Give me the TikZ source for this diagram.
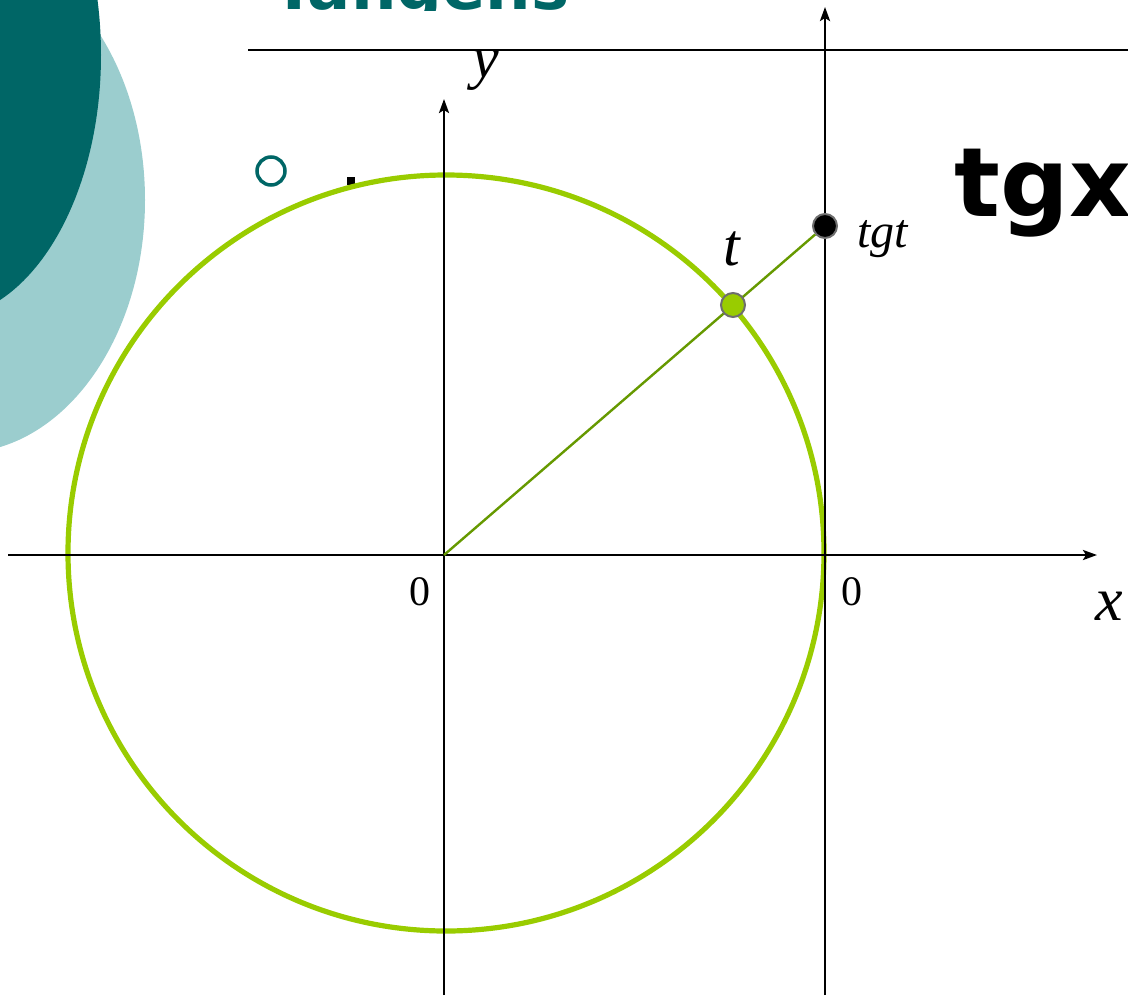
\documentclass[tikz,border=0pt]{standalone}
\usepackage{fontspec}
\setmainfont{Liberation Serif}
\newfontfamily\dejavu{DejaVu Sans}
\usetikzlibrary{arrows.meta}
\definecolor{darkteal}{RGB}{0,102,102}
\definecolor{lightteal}{RGB}{155,205,206}
\definecolor{circgreen}{RGB}{153,204,0}
\definecolor{radgreen}{RGB}{102,153,0}
\definecolor{ptborder}{RGB}{110,110,110}
\begin{document}
\begin{tikzpicture}[x=0.5pt,y=-0.5pt,
  axisline/.style={line width=1.3pt,-{Stealth[length=7pt,width=5pt,inset=1.5pt]}},
  lbl/.style={inner sep=0,anchor=base,font=\fontsize{30}{30}\selectfont\itshape},
  zero/.style={inner sep=0,anchor=base,font=\fontsize{21}{21}\selectfont},
  pt/.style={circle,draw=ptborder,line width=1pt,minimum size=12pt,inner sep=0}]
\useasboundingbox (0,0) rectangle (1128,995);
% decorative ellipses
\fill[lightteal] (-40,200) ellipse [x radius=185, y radius=253];
\fill[darkteal] (-60,55) ellipse [x radius=161, y radius=264];
% title (only its lower edge is visible)
\begin{scope}
  \clip (240,0) rectangle (640,11);
  \node[anchor=base west,inner sep=0,text=darkteal,font=\dejavu\bfseries\fontsize{32}{32}\selectfont] (title) at (272,10) {Tangens};
\end{scope}
% top rule
\coordinate (r1) at (248,50);
\coordinate (r2) at (1128,50);
\draw[line width=1.4pt] (r1) -- (r2);
% bullet ring and dot
\node[circle,draw=darkteal,line width=1.75pt,minimum size=14pt,inner sep=0] (bullet) at (271,171) {};
\fill (347,177) rectangle (355,185);
% unit circle
\draw[circgreen,line width=2.6pt] (446,553) circle [radius=378];
% axes
\coordinate (O) at (444,555);
\coordinate (xl) at (8,555);
\coordinate (xr) at (1097,555);
\coordinate (yb) at (444,995);
\coordinate (yt) at (444,99);
\coordinate (tb) at (825,995);
\coordinate (tt) at (825,7);
\draw[axisline] (xl) -- (xr);
\draw[axisline] (yb) -- (yt);
\draw[axisline] (tb) -- (tt);
% points
\node[pt,fill=black] (T) at (825,226) {};
\draw[radgreen,line width=1.2pt] (O) -- (T);
\node[pt,fill=circgreen] (P) at (733,305) {};
% labels
\node[lbl] (ly) at (486,78) {y};
\node[lbl] (lt) at (732,265) {t};
\node[lbl,anchor=base west,font=\fontsize{24}{24}\selectfont\itshape] (ltgt) at (857,247) {tgt};
\node[zero] (z1) at (420,605) {0};
\node[zero] (z2) at (852,605) {0};
\node[lbl,font=\fontsize{31}{31}\selectfont\itshape] (lx) at (1109,620) {x};
\node[anchor=base west,inner sep=0,font=\dejavu\bfseries\fontsize{48}{48}\selectfont] (tgx) at (954,216) {tgx};
\end{tikzpicture}
\end{document}
